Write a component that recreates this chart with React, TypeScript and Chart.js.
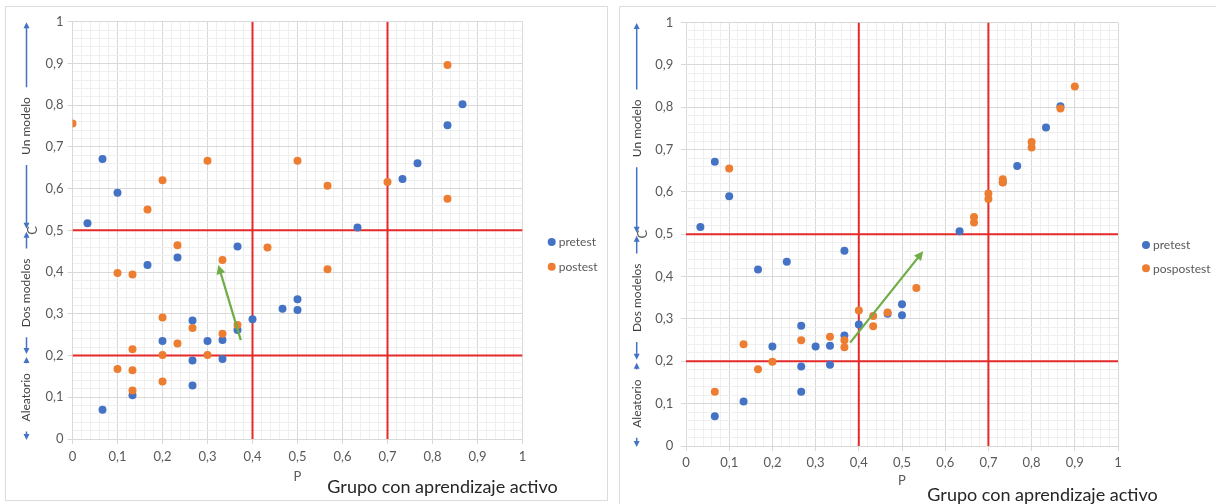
import React, { useEffect, useRef } from "react";
import { Chart, registerables } from "chart.js";
Chart.register(...registerables);

// ---------- data ----------
const pretestP = [0.0333, 0.0667, 0.1, 0.1667, 0.2333, 0.3667, 0.4, 0.4667, 0.5, 0.5, 0.6333, 0.7333, 0.7667, 0.8333, 0.8667, 0.0667, 0.1333, 0.2, 0.2667, 0.2667, 0.2667, 0.3, 0.3333, 0.3333, 0.3667];
const pretestC = [0.517, 0.671, 0.59, 0.417, 0.435, 0.461, 0.287, 0.312, 0.335, 0.309, 0.507, 0.623, 0.661, 0.752, 0.802, 0.07, 0.105, 0.235, 0.284, 0.188, 0.128, 0.235, 0.237, 0.192, 0.261];

const postestP = [0, 0.3, 0.5, 0.2, 0.1667, 0.2333, 0.4333, 0.8333, 0.5667, 0.7, 0.8333, 0.5667, 0.1, 0.1333, 0.3333, 0.2, 0.2667, 0.2333, 0.1333, 0.2, 0.3, 0.3333, 0.3667, 0.1, 0.1333, 0.1333, 0.2];
const postestC = [0.756, 0.667, 0.667, 0.62, 0.55, 0.464, 0.459, 0.896, 0.607, 0.616, 0.576, 0.407, 0.398, 0.394, 0.429, 0.291, 0.266, 0.229, 0.215, 0.201, 0.201, 0.252, 0.273, 0.168, 0.165, 0.116, 0.138];

const pospostestP = [0.1, 0.9, 0.8667, 0.8, 0.8, 0.7333, 0.7333, 0.7, 0.7, 0.6667, 0.6667, 0.0667, 0.1333, 0.1667, 0.2, 0.2667, 0.3333, 0.3667, 0.3667, 0.4, 0.4333, 0.4333, 0.4667, 0.5333];
const pospostestC = [0.655, 0.849, 0.797, 0.718, 0.705, 0.63, 0.622, 0.596, 0.583, 0.541, 0.528, 0.128, 0.24, 0.181, 0.199, 0.25, 0.258, 0.25, 0.233, 0.32, 0.307, 0.283, 0.315, 0.373];

const pThresholds = [0.4, 0.7];
const cThresholds = [0.2, 0.5];
const regionBounds = [0, 0.2, 0.5, 1];
const regionLabels = ["Aleatorio", "Dos modelos", "Un modelo"];
// [fromP, fromC, toP, toC]
const arrowLeft = [0.374, 0.237, 0.324, 0.417];
const arrowRight = [0.38, 0.244, 0.549, 0.46];

const seriesNames = ["pretest", "postest", "pospostest"];
const subtitle = "Grupo con aprendizaje activo";

// ---------- styling ----------
const FONT = "Lato, 'Open Sans', sans-serif";
const BLUE = "#4472c4";
const ORANGE = "#ed7d31";
const RED = "#e52a2a";
const GREEN = "#70ad47";

const isMajor = (v: number) => Math.abs(v * 10 - Math.round(v * 10)) < 1e-6;
const fmt = (v: number) => {
  if (!isMajor(v)) return "";
  const r = Math.round(v * 10) / 10;
  if (r === 0) return "0";
  if (r === 1) return "1";
  return r.toFixed(1).replace(".", ",");
};

const toPts = (xs: number[], ys: number[]) => xs.map((x, i) => ({ x, y: ys[i] }));

function head(ctx: CanvasRenderingContext2D, x: number, y: number, ang: number, len: number, w: number) {
  const c = Math.cos(ang), s = Math.sin(ang);
  ctx.beginPath();
  ctx.moveTo(x, y);
  ctx.lineTo(x - len * c + w * s, y - len * s - w * c);
  ctx.lineTo(x - len * c - w * s, y - len * s + w * c);
  ctx.closePath();
  ctx.fill();
}

const overlayPlugin = {
  id: "overlay",
  afterDatasetsDraw(chart: any, _a: any, opts: any) {
    const { ctx, scales } = chart;
    const xs = scales.x, ys = scales.y;
    const a = opts.arrow as number[];
    const x0 = xs.getPixelForValue(a[0]), y0 = ys.getPixelForValue(a[1]);
    const x1 = xs.getPixelForValue(a[2]), y1 = ys.getPixelForValue(a[3]);
    const ang = Math.atan2(y1 - y0, x1 - x0);
    ctx.save();
    ctx.strokeStyle = GREEN;
    ctx.fillStyle = GREEN;
    ctx.lineWidth = 2.25;
    ctx.beginPath();
    ctx.moveTo(x0, y0);
    ctx.lineTo(x1 - 6 * Math.cos(ang), y1 - 6 * Math.sin(ang));
    ctx.stroke();
    head(ctx, x1, y1, ang, 9, 4.5);
    ctx.restore();
  },
  afterDraw(chart: any, _a: any, opts: any) {
    const { ctx, scales } = chart;
    const ys = scales.y;
    ctx.save();
    // region annotations
    ctx.font = `12px ${FONT}`;
    const ax = opts.annotX;
    const n = regionLabels.length;
    for (let i = 0; i < n; i++) {
      const yLo = ys.getPixelForValue(regionBounds[i]);
      const yHi = ys.getPixelForValue(regionBounds[i + 1]);
      const topTip = yHi + (i === n - 1 ? 0.5 : 1.5);
      const botTip = yLo - (i === 0 ? -1 : 1.5);
      const mid = (yLo + yHi) / 2;
      const tw = ctx.measureText(regionLabels[i]).width;
      const gap = 10;
      ctx.strokeStyle = BLUE;
      ctx.fillStyle = BLUE;
      ctx.lineWidth = 1.5;
      ctx.beginPath();
      ctx.moveTo(ax, mid - tw / 2 - gap);
      ctx.lineTo(ax, topTip + 5);
      ctx.moveTo(ax, mid + tw / 2 + gap);
      ctx.lineTo(ax, botTip - 5);
      ctx.stroke();
      head(ctx, ax, topTip, -Math.PI / 2, 6, 3);
      head(ctx, ax, botTip, Math.PI / 2, 6, 3);
      ctx.save();
      ctx.translate(ax, mid);
      ctx.rotate(-Math.PI / 2);
      ctx.fillStyle = "#404040";
      ctx.textAlign = "center";
      ctx.textBaseline = "middle";
      ctx.fillText(regionLabels[i], 0, 0);
      ctx.restore();
    }
    // axis title C
    ctx.save();
    ctx.translate(opts.cX, ys.getPixelForValue(0.5));
    ctx.rotate(-Math.PI / 2);
    ctx.font = `13px ${FONT}`;
    ctx.fillStyle = "#595959";
    ctx.textAlign = "center";
    ctx.textBaseline = "middle";
    ctx.fillText("C", 0, 0);
    ctx.restore();
    // legend
    const lg = opts.legend;
    ctx.font = `12px ${FONT}`;
    ctx.textAlign = "left";
    ctx.textBaseline = "middle";
    chart.data.datasets
      .filter((d: any) => !d.isGuide)
      .forEach((d: any, i: number) => {
        const cy = lg.y + i * lg.dy;
        ctx.fillStyle = d.backgroundColor;
        ctx.beginPath();
        ctx.arc(lg.x, cy, 4, 0, Math.PI * 2);
        ctx.fill();
        ctx.fillStyle = "#595959";
        ctx.fillText(d.label, lg.x + 7, cy + 0.5);
      });
    // subtitle
    ctx.font = `18px ${FONT}`;
    ctx.fillStyle = "#262626";
    ctx.textAlign = "center";
    ctx.fillText(subtitle, opts.sub.x, opts.sub.y);
    ctx.restore();
  },
};

type PanelCfg = {
  width: number;
  height: number;
  second: { label: string; p: number[]; c: number[] };
  padding: { left: number; right: number; top: number; bottom: number };
  xTickPad: number;
  yTickPad: number;
  xAxisH: number;
  arrow: number[];
  annotX: number;
  cX: number;
  legend: { x: number; y: number; dy: number };
  sub: { x: number; y: number };
};

function Panel({ cfg }: { cfg: PanelCfg }) {
  const ref = useRef<HTMLCanvasElement | null>(null);
  useEffect(() => {
    if (!ref.current) return;
    const guides: any[] = [];
    pThresholds.forEach((p) =>
      guides.push({ x: [p, p], y: [0, 1] })
    );
    cThresholds.forEach((c) =>
      guides.push({ x: [0, 1], y: [c, c] })
    );
    const gridColor = (c: any) => (c.tick && isMajor(c.tick.value) ? "#d9d9d9" : "#efefef");
    const tickColor = (c: any) => (c.tick && isMajor(c.tick.value) ? "#d9d9d9" : "rgba(0,0,0,0)");
    const chart = new Chart(ref.current, {
      type: "scatter",
      data: {
        datasets: [
          {
            label: seriesNames[0],
            data: toPts(pretestP, pretestC),
            backgroundColor: BLUE,
            borderWidth: 0,
            pointRadius: 4,
            order: 2,
          },
          {
            label: cfg.second.label,
            data: toPts(cfg.second.p, cfg.second.c),
            backgroundColor: ORANGE,
            borderWidth: 0,
            pointRadius: 4,
            order: 1,
          },
          ...guides.map((g) => ({
            label: "",
            isGuide: true,
            data: toPts(g.x, g.y),
            showLine: true,
            borderColor: RED,
            borderWidth: 2,
            pointRadius: 0,
            order: 3,
          })),
        ] as any,
      },
      options: {
        responsive: false,
        animation: false,
        events: [],
        layout: { padding: cfg.padding },
        plugins: {
          legend: { display: false },
          tooltip: { enabled: false },
          overlay: {
            arrow: cfg.arrow,
            annotX: cfg.annotX,
            cX: cfg.cX,
            legend: cfg.legend,
            sub: cfg.sub,
          },
        } as any,
        scales: {
          x: {
            type: "linear",
            min: 0,
            max: 1,
            border: { display: false },
            grid: { color: gridColor, tickColor, tickLength: 5, lineWidth: 1 },
            ticks: {
              stepSize: 0.02,
              autoSkip: false,
              maxRotation: 0,
              padding: cfg.xTickPad,
              color: "#595959",
              font: { family: FONT, size: 13 },
              callback: (v: any) => fmt(Number(v)),
            },
            title: {
              display: true,
              text: "P",
              color: "#595959",
              font: { family: FONT, size: 13 },
              padding: 0,
            },
            afterFit: (s: any) => {
              s.height = cfg.xAxisH;
            },
          },
          y: {
            type: "linear",
            min: 0,
            max: 1,
            border: { display: false },
            grid: { color: gridColor, tickColor, tickLength: 5, lineWidth: 1 },
            ticks: {
              stepSize: 0.02,
              autoSkip: false,
              padding: cfg.yTickPad,
              color: "#595959",
              font: { family: FONT, size: 13 },
              callback: (v: any) => fmt(Number(v)),
            },
            afterFit: (s: any) => {
              s.width = 40;
            },
          },
        },
      } as any,
      plugins: [overlayPlugin as any],
    });
    return () => chart.destroy();
  }, [cfg]);
  return <canvas ref={ref} width={cfg.width} height={cfg.height} style={{ display: "block" }} />;
}

const leftCfg: PanelCfg = {
  width: 600,
  height: 493,
  second: { label: seriesNames[1], p: postestP, c: postestC },
  padding: { left: 26.5, right: 83.5, top: 14.7, bottom: 15.5 },
  xTickPad: 5,
  yTickPad: 4,
  xAxisH: 45.5,
  arrow: arrowLeft,
  annotX: 20.5,
  cX: 27,
  legend: { x: 545.7, y: 235, dy: 24.7 },
  sub: { x: 436.5, y: 480 },
};

const rightCfg: PanelCfg = {
  width: 596,
  height: 497,
  second: { label: seriesNames[2], p: pospostestP, c: pospostestC },
  padding: { left: 26, right: 98, top: 14.3, bottom: 15.2 },
  xTickPad: 4,
  yTickPad: 7.7,
  xAxisH: 42.8,
  arrow: arrowRight,
  annotX: 16.7,
  cX: 23,
  legend: { x: 526, y: 238, dy: 23.3 },
  sub: { x: 422.5, y: 488 },
};

export default function App() {
  return (
    <div style={{ position: "fixed", left: 0, top: 0, width: 1216, height: 504, background: "#fff", overflow: "hidden" }}>
      <div style={{ position: "absolute", left: 5, top: 6, width: 603, height: 495, border: "1px solid #dcdcdc", boxSizing: "border-box" }} />
      <div style={{ position: "absolute", left: 619, top: 6, width: 620, height: 520, border: "1px solid #dcdcdc", boxSizing: "border-box" }} />
      <div style={{ position: "absolute", left: 6, top: 7 }}>
        <Panel cfg={leftCfg} />
      </div>
      <div style={{ position: "absolute", left: 620, top: 7 }}>
        <Panel cfg={rightCfg} />
      </div>
    </div>
  );
}
